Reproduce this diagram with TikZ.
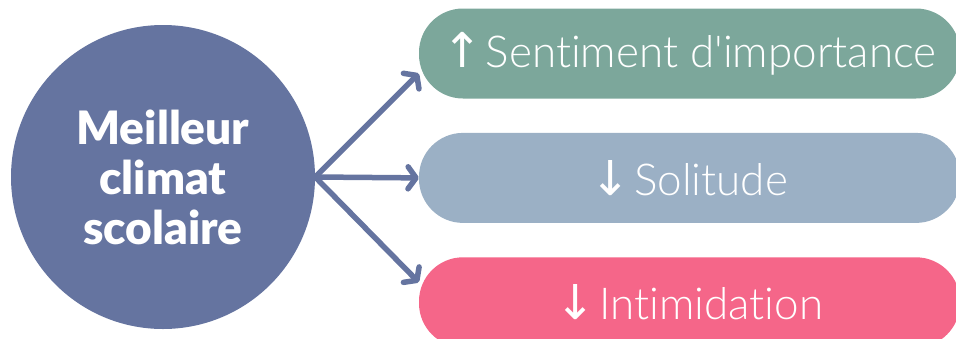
\documentclass[tikz,border=0pt]{standalone}
\usepackage{fontspec}
\setmainfont{Lato}
\newfontfamily\lightfont{Lato Light}[Ligatures=NoCommon]
\newfontfamily\heavyfont{Lato Black}
\newfontfamily\arrowfont{DejaVu Sans}
\usetikzlibrary{arrows.meta,positioning}
\definecolor{climatblue}{RGB}{101,116,160}
\definecolor{importgreen}{RGB}{124,167,155}
\definecolor{solitudeblue}{RGB}{155,176,197}
\definecolor{intimpink}{RGB}{245,102,137}
\begin{document}
\begin{tikzpicture}[x=1pt,y=-1pt]
    \tikzset{CircleStyle/.style = {%
        shape= circle,
        fill= climatblue,
        minimum size = 304pt, inner sep=0pt,
        text= white, align= center,
        font= \heavyfont\fontsize{46}{50}\selectfont},
      BoxStyle/.style = {%
        rounded corners = 44pt,
        minimum width = 541pt, minimum height = 90pt, inner sep=0pt,
        text= white,
        font= \lightfont\fontsize{44}{50}\selectfont},
      ArrowStyle/.style = {%
        draw= climatblue, line width = 5.5pt,
        -{Straight Barb[length=8pt,width=22pt,round]}}}
    \useasboundingbox (0,0) rectangle (956,338);
    \node[CircleStyle] (climat) at (163,177) {Meilleur\\climat\\scolaire};
    \node[BoxStyle, fill=importgreen] (importance) at (689.5,53.5)
      {{\arrowfont\fontsize{48}{50}\selectfont ↑}\hspace{3pt}Sentiment d\textquotesingle importance};
    \node[BoxStyle, fill=solitudeblue, below=34pt of importance] (solitude)
      {{\arrowfont\fontsize{48}{50}\selectfont ↓}\hspace{3pt}Solitude};
    \node[BoxStyle, fill=intimpink, below=34pt of solitude] (intimidation)
      {{\arrowfont\fontsize{48}{50}\selectfont ↓}\hspace{3pt}Intimidation};
    \draw[ArrowStyle] (climat.east) -- ([yshift=-20pt]importance.west);
    \draw[ArrowStyle] (climat.east) -- (solitude.west);
    \draw[ArrowStyle] (climat.east) -- ([yshift=20pt]intimidation.west);
  \end{tikzpicture}
\end{document}
